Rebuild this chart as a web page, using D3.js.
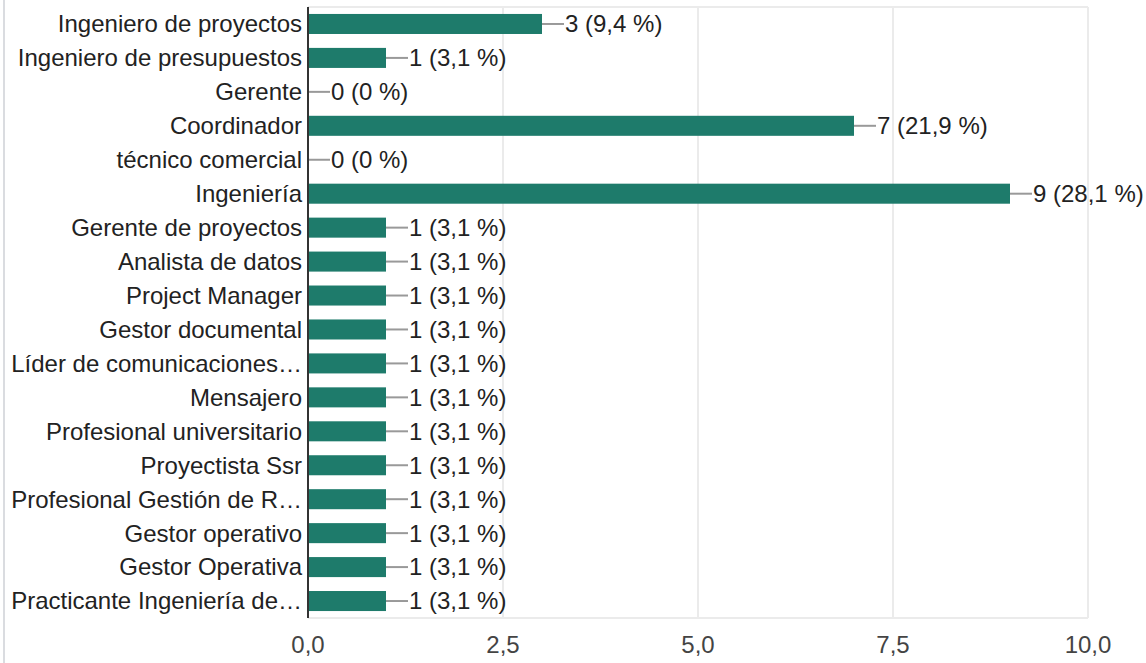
<!DOCTYPE html>
<html>
<head>
<meta charset="utf-8">
<script src="https://cdn.jsdelivr.net/npm/d3@7"></script>
<style>
  body { margin: 0; background: #fff; }
  text { font-family: Arial, "Liberation Sans", sans-serif; }
</style>
</head>
<body>
<div class="chart"></div>
<script>
var svgWidth = 1146;
var svgHeight = 663;

var categories = [
  "Ingeniero de proyectos", "Ingeniero de presupuestos", "Gerente", "Coordinador",
  "técnico comercial", "Ingeniería", "Gerente de proyectos", "Analista de datos",
  "Project Manager", "Gestor documental", "Líder de comunicaciones…", "Mensajero",
  "Profesional universitario", "Proyectista Ssr", "Profesional Gestión de R…",
  "Gestor operativo", "Gestor Operativa", "Practicante Ingeniería de…"
];
var counts = [3, 1, 0, 7, 0, 9, 1, 1, 1, 1, 1, 1, 1, 1, 1, 1, 1, 1];
var percents = ["9,4", "3,1", "0", "21,9", "0", "28,1", "3,1", "3,1", "3,1", "3,1",
  "3,1", "3,1", "3,1", "3,1", "3,1", "3,1", "3,1", "3,1"];
var xTicks = [0, 2.5, 5, 7.5, 10];

var margin = { top: 7, right: 58, bottom: 45, left: 308 };
var width = svgWidth - margin.left - margin.right;
var height = svgHeight - margin.top - margin.bottom;
var fontSize = 24;

var svg = d3.select(".chart")
  .append("svg")
  .attr("width", svgWidth)
  .attr("height", svgHeight);

// card border on the left
svg.append("line")
  .attr("x1", 4).attr("x2", 4)
  .attr("y1", 0).attr("y2", svgHeight)
  .attr("stroke", "#dadce0")
  .attr("stroke-width", 2);

var chartGroup = svg.append("g")
  .attr("transform", `translate(${margin.left}, ${margin.top})`);

var x = d3.scaleLinear().domain([0, 10]).range([0, width]);
var y = d3.scaleBand().domain(categories).range([0, height]).paddingInner(0.41).paddingOuter(0.205);

// gridlines
chartGroup.selectAll(".vgrid")
  .data(xTicks)
  .enter()
  .append("line")
  .attr("x1", d => x(d)).attr("x2", d => x(d))
  .attr("y1", 0).attr("y2", height)
  .attr("stroke", "#ebebeb")
  .attr("stroke-width", 2);

[0, height].forEach(function (yy) {
  chartGroup.append("line")
    .attr("x1", 0).attr("x2", width)
    .attr("y1", yy).attr("y2", yy)
    .attr("stroke", "#ebebeb")
    .attr("stroke-width", 2);
});

// bars
chartGroup.selectAll(".bar")
  .data(counts)
  .enter()
  .append("rect")
  .attr("x", 0)
  .attr("y", (d, i) => y(categories[i]))
  .attr("width", d => x(d))
  .attr("height", y.bandwidth())
  .attr("fill", "#1e7b6b");

// leader lines
chartGroup.selectAll(".leader")
  .data(counts)
  .enter()
  .append("line")
  .attr("x1", d => x(d))
  .attr("x2", d => x(d) + 22)
  .attr("y1", (d, i) => y(categories[i]) + y.bandwidth() / 2)
  .attr("y2", (d, i) => y(categories[i]) + y.bandwidth() / 2)
  .attr("stroke", "#999")
  .attr("stroke-width", 2);

// value labels
chartGroup.selectAll(".val")
  .data(counts)
  .enter()
  .append("text")
  .attr("x", d => x(d) + 23)
  .attr("y", (d, i) => y(categories[i]) + y.bandwidth() / 2)
  .attr("dy", "0.35em")
  .attr("font-size", fontSize)
  .attr("fill", "#222")
  .text((d, i) => `${d} (${percents[i]} %)`);

// category labels
chartGroup.selectAll(".cat")
  .data(categories)
  .enter()
  .append("text")
  .attr("x", -6)
  .attr("y", d => y(d) + y.bandwidth() / 2)
  .attr("dy", "0.35em")
  .attr("text-anchor", "end")
  .attr("font-size", fontSize)
  .attr("fill", "#222")
  .text(d => d);

// zero axis line
chartGroup.append("line")
  .attr("x1", 0).attr("x2", 0)
  .attr("y1", 0).attr("y2", height)
  .attr("stroke", "#333")
  .attr("stroke-width", 2);

// x tick labels
chartGroup.selectAll(".tick")
  .data(xTicks)
  .enter()
  .append("text")
  .attr("x", d => x(d))
  .attr("y", height + 27)
  .attr("dy", "0.35em")
  .attr("text-anchor", "middle")
  .attr("font-size", fontSize)
  .attr("fill", "#444")
  .text(d => d3.format(".1f")(d).replace(".", ","));
</script>
</body>
</html>
